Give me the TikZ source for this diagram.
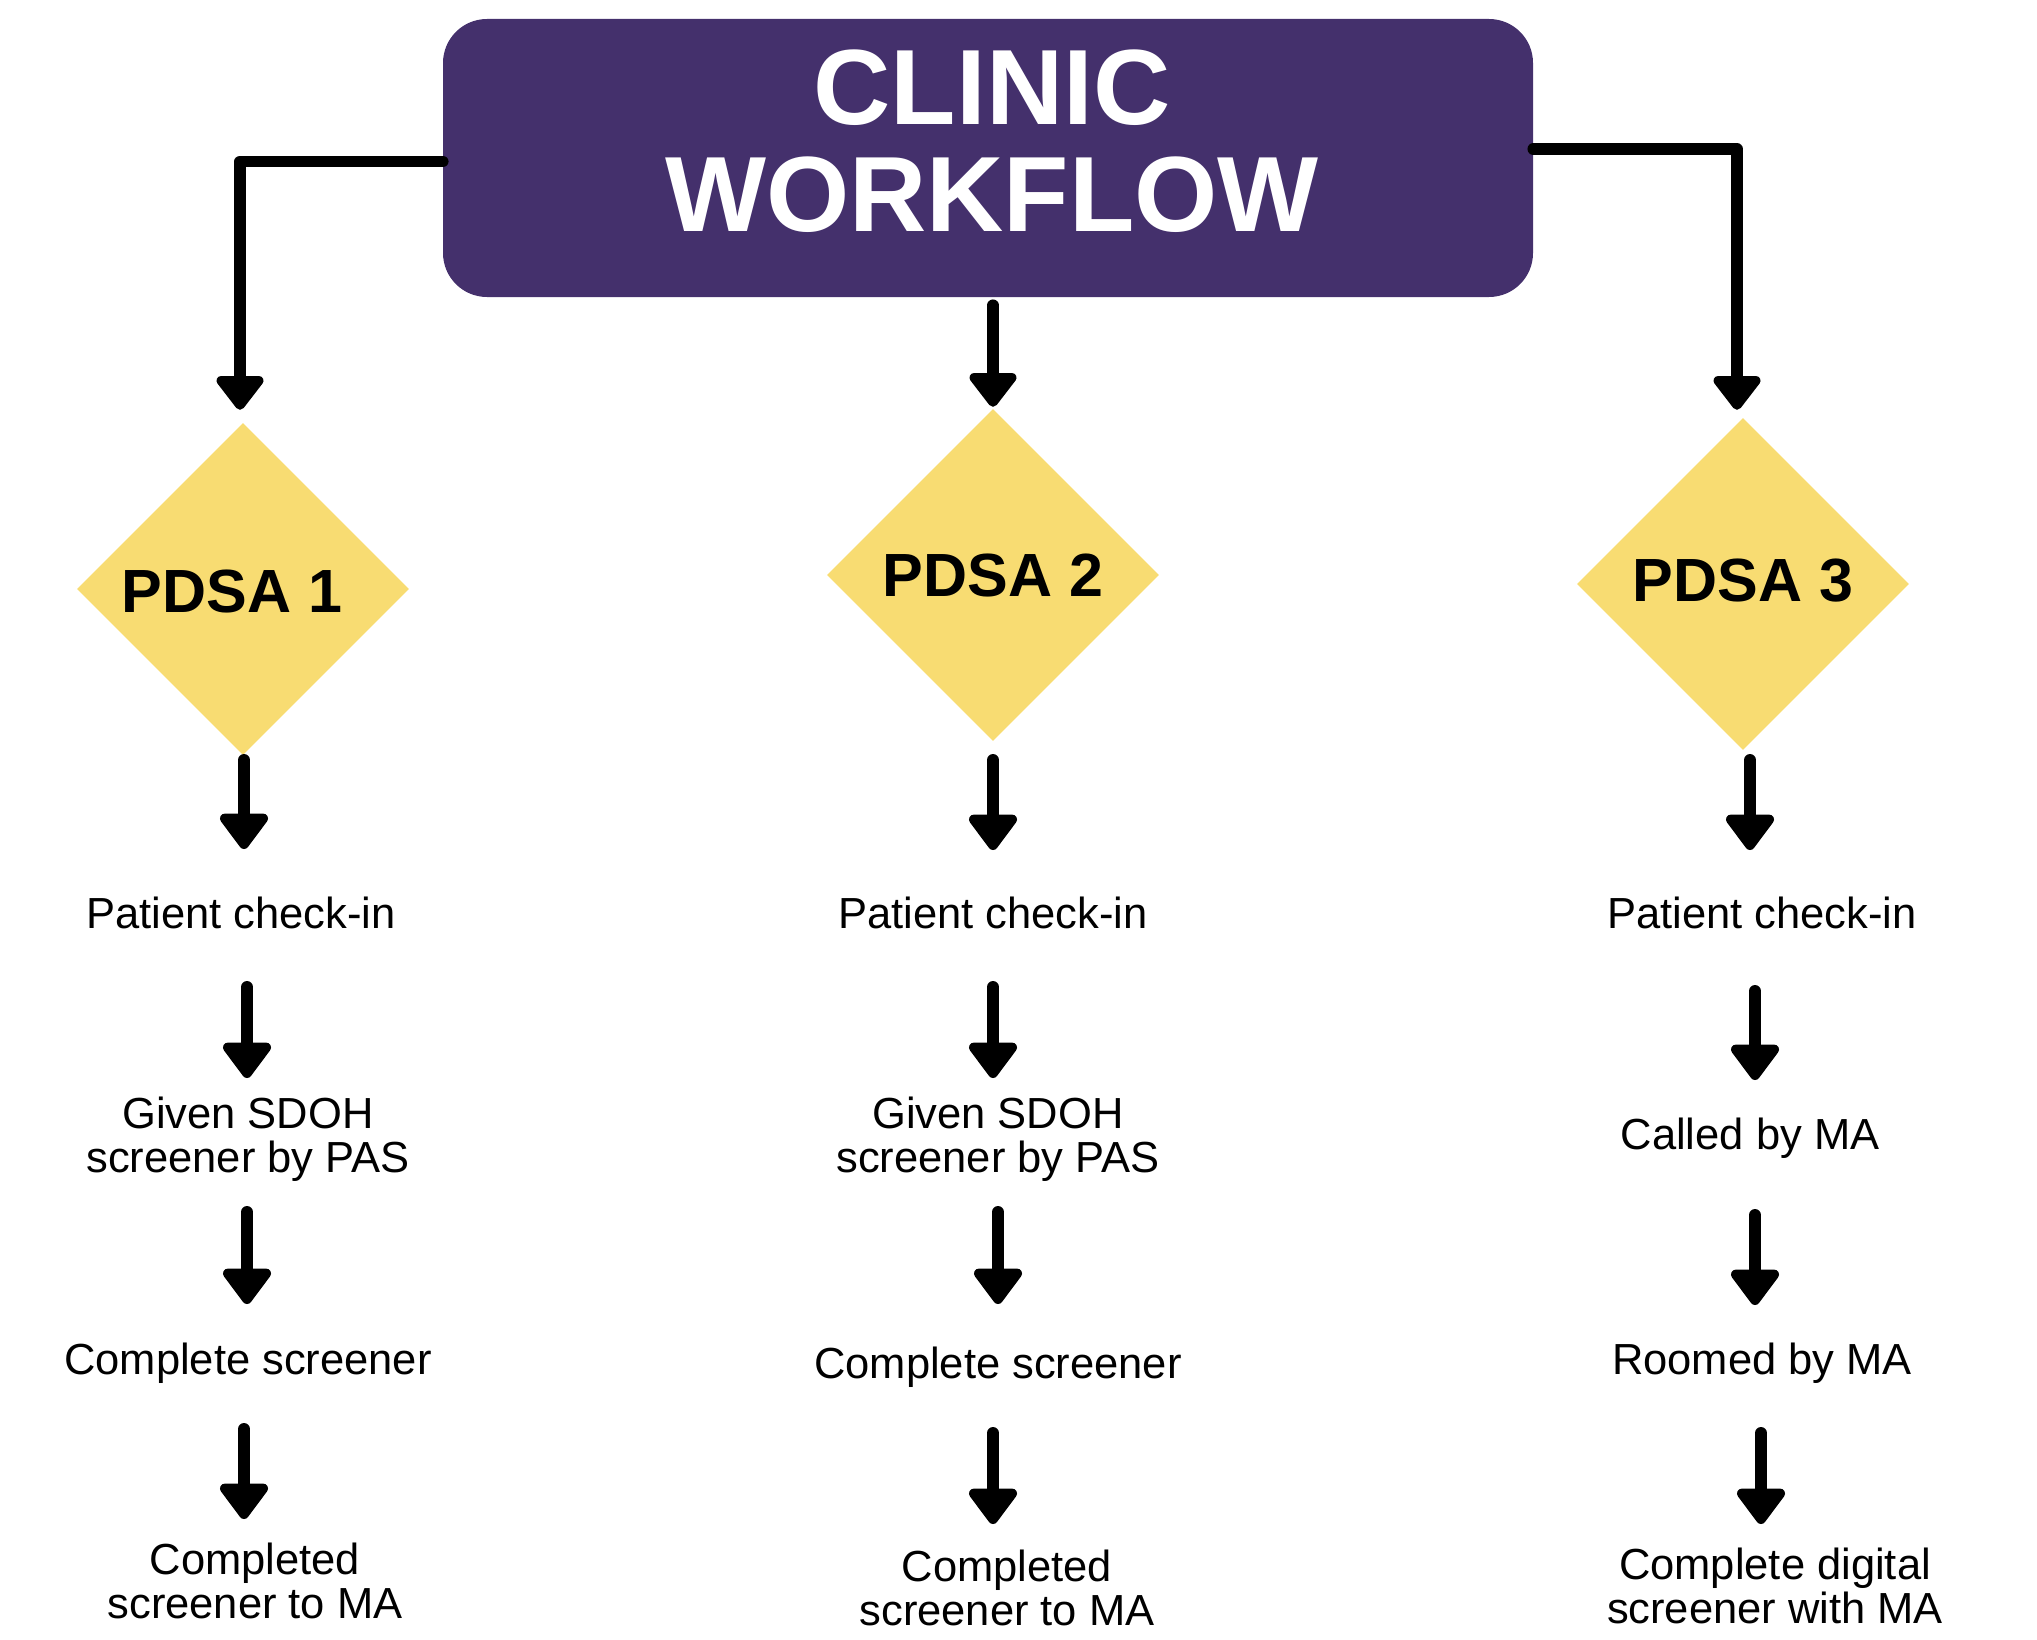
\documentclass[tikz,border=0pt]{standalone}
\usepackage{fontspec}
\setmainfont{Liberation Sans}
\usetikzlibrary{shapes.geometric,arrows.meta}
\definecolor{titlepurple}{HTML}{44306C}
\definecolor{pdsayellow}{HTML}{F8DC72}
\tikzset{
  titlebox/.style={draw=none,fill=titlepurple,rounded corners=44pt,minimum width=1090pt,minimum height=278pt,inner sep=0pt},
  titletxt/.style={text=white,font=\fontsize{107}{107}\selectfont\bfseries,align=center,inner sep=0pt},
  pdsa/.style={diamond,aspect=1,fill=pdsayellow,draw=none,minimum size=332pt,inner sep=0pt},
  pdsatxt/.style={font=\fontsize{61}{61}\selectfont\bfseries,inner sep=0pt},
  txt/.style={font=\fontsize{43.5}{44}\selectfont,inner sep=0pt,text height=32pt,text depth=9pt},
  txtii/.style={font=\fontsize{43.5}{44}\selectfont,align=center,inner sep=0pt},
  conn/.style={line width=11.5pt,line join=round,line cap=round,-{Triangle[width=54pt,length=37pt,round]}},
  arr/.style={line width=12pt,line cap=round,-{Triangle[width=55pt,length=39pt,round]}}
}
\begin{document}
\begin{tikzpicture}[x=1pt,y=-1pt]
\useasboundingbox (0,0) rectangle (2037,1640);
% title
\node[titlebox] (title) at (988,158) {};
\node[titletxt] (titlet) at (992,141) {CLINIC\\WORKFLOW};
% diamonds
\node[pdsa] (d1) at (243,589) {};
\node[pdsatxt] at (232,591) {PDSA 1};
\node[pdsa] (d2) at (993,575) {};
\node[pdsatxt] at (993,575) {PDSA 2};
\node[pdsa] (d3) at (1743,584) {};
\node[pdsatxt] at (1743,581) {PDSA 3};
% top connectors
\draw[conn,shorten >=13pt] (title.west |- 0,161.5) -| (d1.north -| 240,0);
\draw[conn,shorten <=8pt,shorten >=2pt] (title.south -| 993,0) -- (d2.north -| 993,0);
\draw[conn,shorten >=8pt] (title.east |- 0,149) -| (d3.north -| 1737,0);
% column 1
\node[txt] (p1) at (241,917) {Patient check-in};
\node[txtii] (g1) at (248,1139) {Given SDOH\\screener by PAS};
\node[txt] (c1) at (248,1363) {Complete screener};
\node[txtii] (m1) at (255,1581) {Completed\\screener to MA};
\draw[arr,shorten <=171pt,shorten >=68pt] (d1.center -| 244,0) -- (p1.center -| 244,0);
\draw[arr,shorten <=70pt,shorten >=61pt] (p1.center -| 247,0) -- (g1.center -| 247,0);
\draw[arr,shorten <=73pt,shorten >=59pt] (g1.center -| 247,0) -- (c1.center -| 247,0);
\draw[arr,shorten <=66pt,shorten >=62pt] (c1.center -| 244,0) -- (m1.center -| 244,0);
% column 2
\node[txt] (p2) at (993,917) {Patient check-in};
\node[txtii] (g2) at (998,1139) {Given SDOH\\screener by PAS};
\node[txt] (c2) at (998,1367) {Complete screener};
\node[txtii] (m2) at (1007,1588) {Completed\\screener to MA};
\draw[arr,shorten <=185pt,shorten >=67pt] (d2.center -| 993,0) -- (p2.center -| 993,0);
\draw[arr,shorten <=70pt,shorten >=61pt] (p2.center -| 993,0) -- (g2.center -| 993,0);
\draw[arr,shorten <=73pt,shorten >=63pt] (g2.center -| 998,0) -- (c2.center -| 998,0);
\draw[arr,shorten <=66pt,shorten >=64pt] (c2.center -| 993,0) -- (m2.center -| 993,0);
% column 3
\node[txt] (p3) at (1762,917) {Patient check-in};
\node[txt] (ca3) at (1750,1138) {Called by MA};
\node[txt] (r3) at (1762,1363) {Roomed by MA};
\node[txtii] (m3) at (1775,1586) {Complete digital\\screener with MA};
\draw[arr,shorten <=176pt,shorten >=67pt] (d3.center -| 1750,0) -- (p3.center -| 1750,0);
\draw[arr,shorten <=74pt,shorten >=58pt] (p3.center -| 1755,0) -- (ca3.center -| 1755,0);
\draw[arr,shorten <=77pt,shorten >=58pt] (ca3.center -| 1755,0) -- (r3.center -| 1755,0);
\draw[arr,shorten <=70pt,shorten >=62pt] (r3.center -| 1761,0) -- (m3.center -| 1761,0);
\end{tikzpicture}
\end{document}
